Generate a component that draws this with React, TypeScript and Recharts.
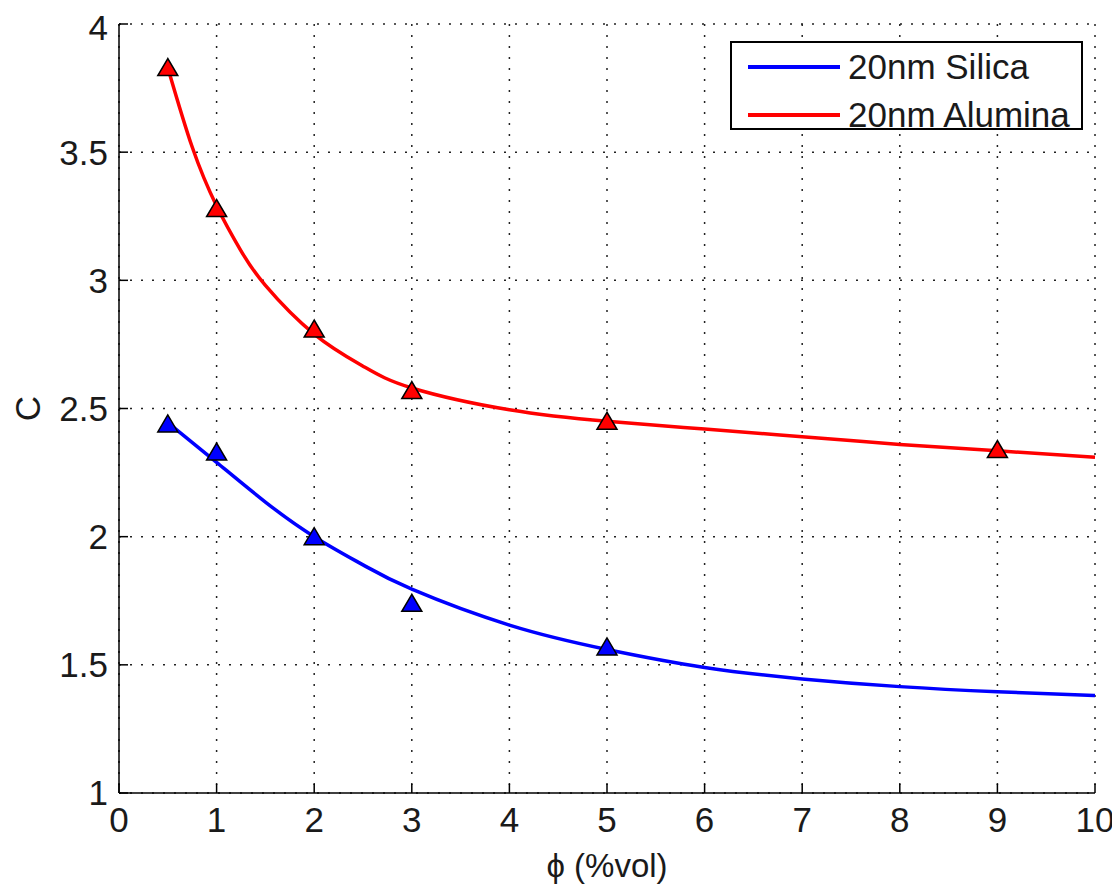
import { ComposedChart, Line, Scatter, XAxis, YAxis, CartesianGrid } from 'recharts';

// fitted curves
const silicaCurvePhi = [0.5, 1, 1.5, 2, 2.5, 3, 4, 5, 6, 7, 8, 9, 10];
const silicaCurveC = [2.445, 2.29, 2.135, 2.0, 1.89, 1.795, 1.655, 1.56, 1.49, 1.445, 1.415, 1.395, 1.38];
const aluminaCurvePhi = [0.5, 0.75, 1, 1.25, 1.5, 2, 2.5, 3, 4, 5, 6, 7, 8, 9, 10];
const aluminaCurveC = [3.83, 3.52, 3.29, 3.115, 2.98, 2.79, 2.665, 2.58, 2.495, 2.45, 2.42, 2.39, 2.36, 2.335, 2.31];

// measured points (triangles)
const silicaPhi = [0.5, 1, 2, 3, 5];
const silicaC = [2.44, 2.33, 2.0, 1.74, 1.57];
const aluminaPhi = [0.5, 1, 2, 3, 5, 9];
const aluminaC = [3.83, 3.28, 2.81, 2.57, 2.45, 2.34];

const xTicks = [0, 1, 2, 3, 4, 5, 6, 7, 8, 9, 10];
const yTicks = [1, 1.5, 2, 2.5, 3, 3.5, 4];

const legendItems = [
  { name: '20nm Silica', color: '#0000ff' },
  { name: '20nm Alumina', color: '#ff0000' },
];

const toRows = (phi: number[], c: number[]) => phi.map((p, i) => ({ phi: p, c: c[i] }));

const silicaCurve = toRows(silicaCurvePhi, silicaCurveC);
const aluminaCurve = toRows(aluminaCurvePhi, aluminaCurveC);
const silicaPoints = toRows(silicaPhi, silicaC);
const aluminaPoints = toRows(aluminaPhi, aluminaC);

const FONT = '"Liberation Sans", Arial, sans-serif';
const tickStyle = { fontSize: 35, fill: '#1a1a1a', fontFamily: FONT };
const axisLineStyle = { stroke: '#000', strokeWidth: 1.5 };

function Triangle(props: any) {
  const { cx, cy, fill } = props;
  if (cx == null || cy == null) return null;
  return (
    <polygon
      points={`${cx},${cy - 9} ${cx - 10},${cy + 8} ${cx + 10},${cy + 8}`}
      fill={fill}
      stroke="#000"
      strokeWidth={1.5}
    />
  );
}

function YLabel(props: any) {
  const vb = props.viewBox || { x: 0, y: 0, width: 0, height: 0 };
  const x = vb.x + 19;
  const y = vb.y + vb.height / 2;
  return (
    <text x={x} y={y} transform={`rotate(-90 ${x} ${y})`} textAnchor="middle" dominantBaseline="central" fontSize={35} fill="#1a1a1a" fontFamily={FONT}>
      C
    </text>
  );
}

function XLabel(props: any) {
  const vb = props.viewBox || { x: 0, y: 0, width: 0, height: 0 };
  return (
    <text x={vb.x + vb.width / 2} y={vb.y + 84} textAnchor="middle" fontSize={33} fill="#1a1a1a" fontFamily={FONT}>
      ϕ (%vol)
    </text>
  );
}

export default function App() {
  return (
    <div style={{ position: 'relative', width: 1112, height: 876, fontFamily: FONT }}>
      <ComposedChart width={1112} height={876} margin={{ top: 16, right: 25, bottom: 0, left: 0 }}>
        <CartesianGrid stroke="#222" strokeWidth={1.5} strokeDasharray="2 9" />
        <XAxis
          dataKey="phi"
          type="number"
          domain={[0, 10]}
          ticks={xTicks}
          height={91}
          tick={tickStyle}
          tickSize={-9}
          tickMargin={23}
          tickLine={axisLineStyle}
          axisLine={axisLineStyle}
          label={{ content: XLabel }}
        />
        <XAxis
          xAxisId="top"
          orientation="top"
          type="number"
          domain={[0, 10]}
          ticks={xTicks}
          height={0}
          tickSize={-9}
          tickFormatter={() => ''}
          tickLine={axisLineStyle}
          axisLine={axisLineStyle}
        />
        <YAxis
          dataKey="c"
          type="number"
          domain={[1, 4]}
          ticks={yTicks}
          width={111}
          tick={tickStyle}
          tickSize={-9}
          tickMargin={20}
          tickLine={axisLineStyle}
          axisLine={axisLineStyle}
          label={{ content: YLabel }}
        />
        <YAxis
          yAxisId="right"
          orientation="right"
          type="number"
          domain={[1, 4]}
          ticks={yTicks}
          width={0}
          tickSize={-9}
          tickFormatter={() => ''}
          tickLine={axisLineStyle}
          axisLine={axisLineStyle}
        />
        <Line data={silicaCurve} dataKey="c" type="natural" stroke="#0000ff" strokeWidth={3.5} dot={false} isAnimationActive={false} />
        <Line data={aluminaCurve} dataKey="c" type="natural" stroke="#ff0000" strokeWidth={3.5} dot={false} isAnimationActive={false} />
        <Scatter data={silicaPoints} dataKey="c" fill="#0000ff" shape={Triangle} isAnimationActive={false} />
        <Scatter data={aluminaPoints} dataKey="c" fill="#ff0000" shape={Triangle} isAnimationActive={false} />
      </ComposedChart>
      <div
        style={{
          position: 'absolute',
          left: 722,
          top: 33,
          width: 353,
          height: 89,
          boxSizing: 'border-box',
          border: '2px solid #000',
          background: '#fff',
        }}
      >
        {legendItems.map((item, i) => (
          <div
            key={item.name}
            style={{ position: 'absolute', left: 0, top: i * 48, height: 48, display: 'flex', alignItems: 'center' }}
          >
            <div style={{ marginLeft: 16, width: 92, height: 4, background: item.color }} />
            <span style={{ marginLeft: 8, fontSize: 35, lineHeight: '48px', color: '#1a1a1a', whiteSpace: 'nowrap' }}>{item.name}</span>
          </div>
        ))}
      </div>
    </div>
  );
}
